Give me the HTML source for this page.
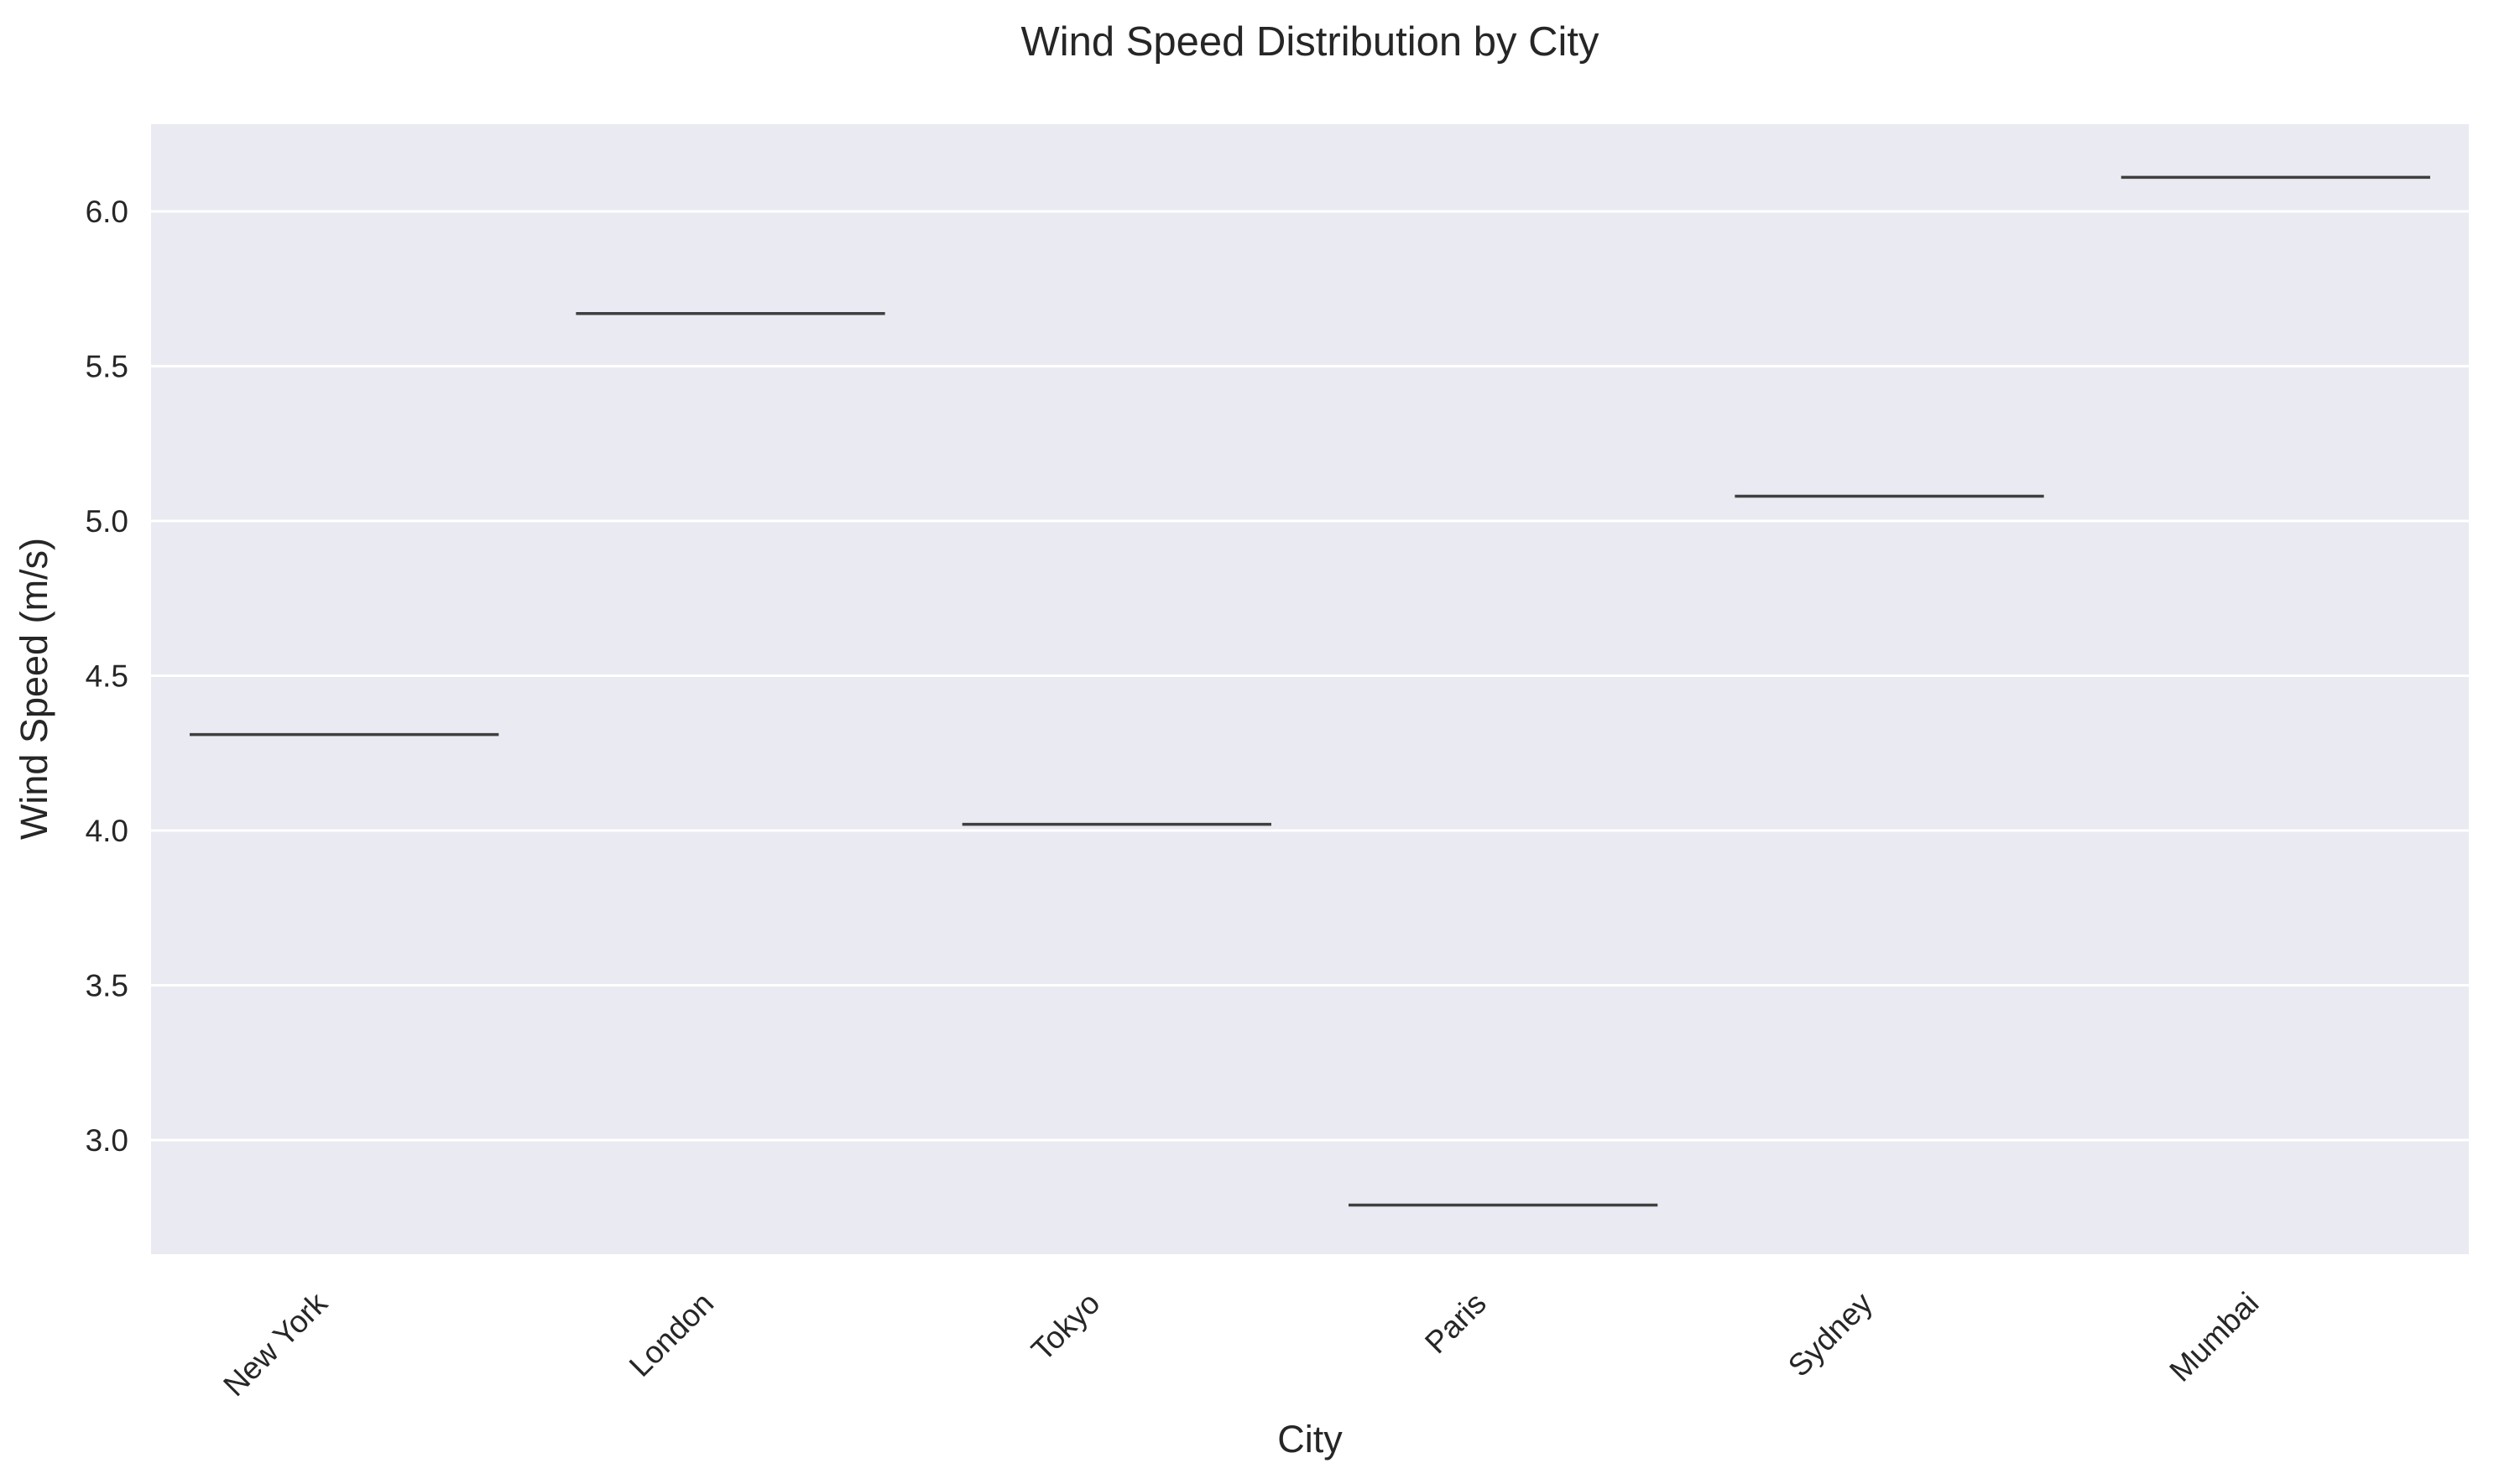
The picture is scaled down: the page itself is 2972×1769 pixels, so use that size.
<!DOCTYPE html>
<html><head><meta charset="utf-8"><style>
html,body{margin:0;padding:0;background:#fff;}
svg{display:block;font-family:"Liberation Sans",sans-serif;}
</style></head><body>
<svg id="chart" width="2972" height="1769" viewBox="0 0 2972 1769">
<rect x="180" y="148" width="2762" height="1347" fill="#eaeaf2"/>
<g id="grid"></g>
<g id="marks"></g>
<g id="yticks"></g>
<g id="xticks"></g>
<text x="1561" y="66" font-size="49" text-anchor="middle" fill="#262626">Wind Speed Distribution by City</text>
<text x="1561" y="1731" font-size="45" text-anchor="middle" fill="#262626">City</text>
<text x="56" y="821" font-size="45" text-anchor="middle" fill="#262626" transform="rotate(-90 56 821)">Wind Speed (m/s)</text>
</svg>
<script>
const categories = ["New York","London","Tokyo","Paris","Sydney","Mumbai"];
const values = [4.31, 5.67, 4.02, 2.79, 5.08, 6.11];
const yTicks = [3.0, 3.5, 4.0, 4.5, 5.0, 5.5, 6.0];
const yTickLabels = ["3.0","3.5","4.0","4.5","5.0","5.5","6.0"];
const NS = "http://www.w3.org/2000/svg";
const X0 = 180, X1 = 2942;
const band = (X1 - X0) / categories.length;
function xc(i){ return X0 + band * (i + 0.5); }
function ys(v){ return 252 + (6.0 - v) * 369; }
function mk(tag, attrs, parent){
  const e = document.createElementNS(NS, tag);
  for (const k in attrs) e.setAttribute(k, attrs[k]);
  document.getElementById(parent).appendChild(e);
  return e;
}
yTicks.forEach((t, i) => {
  const g = mk("line", {x1:X0, x2:X1, y1:ys(t), y2:ys(t), stroke:"#fff", "stroke-width":3}, "grid");
  
  
  const l = mk("text", {x:153, y:ys(t)+13, "font-size":37, "text-anchor":"end", fill:"#262626"}, "yticks");
  l.textContent = yTickLabels[i];
  
  
});
categories.forEach((c, i) => {
  const m = mk("line", {x1:xc(i)-band*0.4, x2:xc(i)+band*0.4, y1:ys(values[i]), y2:ys(values[i]), stroke:"#3f3f3f", "stroke-width":3.5}, "marks");
  
  
  const x = xc(i) - 18, y = 1556;
  const t = mk("text", {x:x, y:y, "font-size":37, "text-anchor":"end", fill:"#262626", transform:"rotate(-45 "+x+" "+y+")"}, "xticks");
  t.textContent = c;
  
  
});
</script>
</body></html>
